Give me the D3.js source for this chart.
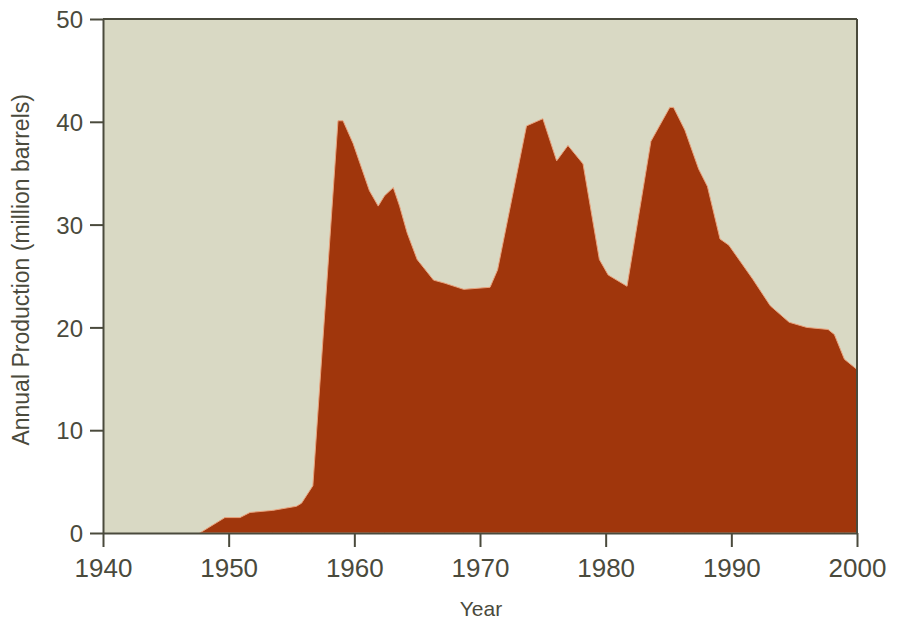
<!DOCTYPE html>
<html>
<head>
<meta charset="utf-8">
<script src="https://cdn.jsdelivr.net/npm/d3@7"></script>
<style>
  body { margin: 0; background: #fff; }
  svg { display: block; font-family: "Liberation Sans", Arial, sans-serif; }
</style>
</head>
<body>
<div id="chart"></div>
<script>
// Data (year, million barrels)
const years = [1947.7, 1949.7, 1950.9, 1951.7, 1953.5, 1955.4, 1955.8, 1956.7,
  1958.7, 1959.1, 1959.9, 1961.2, 1961.9, 1962.4, 1963.1, 1963.6, 1964.2, 1965.0, 1966.3, 1967.2, 1968.7, 1970.8, 1971.4,
  1973.7, 1975.0, 1976.1, 1977.0, 1978.2, 1979.5, 1980.2, 1981.7,
  1983.6, 1985.1, 1985.4, 1986.3, 1987.4, 1988.1, 1989.1, 1989.8, 1991.7, 1993.1, 1994.6, 1996.0, 1997.7, 1998.2, 1999.0, 2000];
const production = [0, 1.5, 1.5, 2.0, 2.2, 2.6, 2.9, 4.6,
  40.1, 40.1, 37.9, 33.3, 31.8, 32.8, 33.6, 31.8, 29.2, 26.6, 24.6, 24.3, 23.7, 23.9, 25.6,
  39.6, 40.3, 36.2, 37.7, 35.9, 26.6, 25.1, 24.0,
  38.1, 41.4, 41.4, 39.2, 35.4, 33.7, 28.6, 28.0, 24.7, 22.1, 20.5, 20.0, 19.8, 19.3, 16.9, 15.9];
const xTicks = [1940, 1950, 1960, 1970, 1980, 1990, 2000];
const yTicks = [0, 10, 20, 30, 40, 50];

const data = years.map((y, i) => ({ year: y, value: production[i] }));

const W = 897, H = 620;
const margin = { top: 19, right: 40, bottom: 87, left: 103 };
const width = W - margin.left - margin.right;
const height = H - margin.top - margin.bottom;
const ink = "#4a4a3c";

const svg = d3.select("#chart").append("svg")
  .attr("width", W)
  .attr("height", H);

const g = svg.append("g")
  .attr("transform", `translate(${margin.left},${margin.top})`);

const x = d3.scaleLinear().domain([1940, 2000]).range([0, width]);
const y = d3.scaleLinear().domain([0, 50]).range([height, 0]);

// plot background
g.append("rect")
  .attr("width", width)
  .attr("height", height)
  .attr("fill", "#d9d9c4");

// production area
const area = d3.area()
  .x(d => x(d.year))
  .y0(y(0))
  .y1(d => y(d.value));

g.append("path")
  .datum(data)
  .attr("fill", "#a0360c")
  .attr("stroke", "#eaa27c")
  .attr("stroke-width", 1)
  .attr("stroke-linejoin", "round")
  .attr("d", area);

// frame (top and right)
g.append("line")
  .attr("x1", 0).attr("x2", width)
  .attr("y1", 0).attr("y2", 0)
  .attr("stroke", ink).attr("stroke-width", 2);
g.append("line")
  .attr("x1", width).attr("x2", width)
  .attr("y1", 0).attr("y2", height)
  .attr("stroke", ink).attr("stroke-width", 2);

// axes
const xAxis = g.append("g")
  .attr("transform", `translate(0,${height})`)
  .call(d3.axisBottom(x).tickValues(xTicks).tickFormat(d3.format("d")).tickSize(14).tickSizeOuter(0).tickPadding(12));

const yAxis = g.append("g")
  .call(d3.axisLeft(y).tickValues(yTicks).tickSize(13).tickSizeOuter(0).tickPadding(7));

[xAxis, yAxis].forEach(ax => {
  ax.select(".domain").attr("stroke", ink).attr("stroke-width", 2);
  ax.selectAll(".tick line").attr("stroke", ink).attr("stroke-width", 2);
  ax.selectAll(".tick text")
    .attr("fill", ink)
    .style("font-family", "\"Liberation Sans\", Arial, sans-serif");
});
xAxis.selectAll(".tick text").style("font-size", "26px");
yAxis.selectAll(".tick text").style("font-size", "24px").attr("dy", "0.36em");

// axis titles
svg.append("text")
  .attr("text-anchor", "middle")
  .attr("x", 481)
  .attr("y", 616)
  .attr("fill", ink)
  .style("font-size", "21px")
  .text("Year");

svg.append("text")
  .attr("text-anchor", "middle")
  .attr("transform", `translate(29, ${margin.top + y(25.6)}) rotate(-90)`)
  .attr("fill", ink)
  .style("font-size", "23px")
  .text("Annual Production (million barrels)");
</script>
</body>
</html>
